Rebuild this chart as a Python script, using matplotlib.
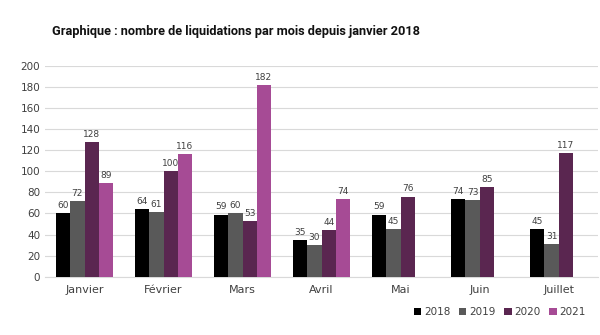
import numpy as np
import matplotlib.pyplot as plt

mois = ["Janvier", "Février", "Mars", "Avril", "Mai", "Juin", "Juillet"]
annees = ["2018", "2019", "2020", "2021"]
v2018 = [60, 64, 59, 35, 59, 74, 45]
v2019 = [72, 61, 60, 30, 45, 73, 31]
v2020 = [128, 100, 53, 44, 76, 85, 117]
v2021 = [89, 116, 182, 74, np.nan, np.nan, np.nan]
couleurs = ["#000000", "#595959", "#5a2650", "#a64b95"]

fig = plt.figure(figsize=(6, 3.35), dpi=100)
ax = fig.add_axes([0.075, 0.174, 0.922, 0.629])

x = np.arange(len(mois))
larg = 0.18
series = [v2018, v2019, v2020, v2021]
for i, (vals, c, an) in enumerate(zip(series, couleurs, annees)):
    pos = x + (i - 1.5) * larg
    ax.bar(pos, vals, larg, color=c, label=an, zorder=3)
    for p, v in zip(pos, vals):
        if not np.isnan(v):
            ax.text(p, v + 3, str(int(v)), ha="center", va="bottom",
                    fontsize=6.5, color="#404040")

ax.set_xlim(-0.5, len(mois) - 0.5)
ax.set_ylim(0, 200)
ax.set_yticks(range(0, 201, 20))
ax.set_xticks(x)
ax.set_xticklabels(mois)
ax.yaxis.grid(True, color="#d9d9d9", linewidth=0.8, zorder=0)
for s in ["top", "right", "left"]:
    ax.spines[s].set_visible(False)
ax.spines["bottom"].set_color("#d9d9d9")
ax.tick_params(length=0, labelsize=7.5, colors="#404040")
ax.tick_params(axis="x", pad=6, labelsize=8)

fig.text(0.087, 0.905, "Graphique : nombre de liquidations par mois depuis janvier 2018",
         fontsize=9.2, fontweight="bold", family=["Liberation Sans Narrow", "Roboto"],
         color="#111111", va="center")

ax.legend(loc="upper right", bbox_to_anchor=(0.995, -0.1), ncol=4, frameon=False,
          fontsize=7.5, handlelength=0.7, handleheight=0.7, handletextpad=0.3,
          columnspacing=0.8, labelcolor="#404040")

fig.savefig("out.png", dpi=100)
